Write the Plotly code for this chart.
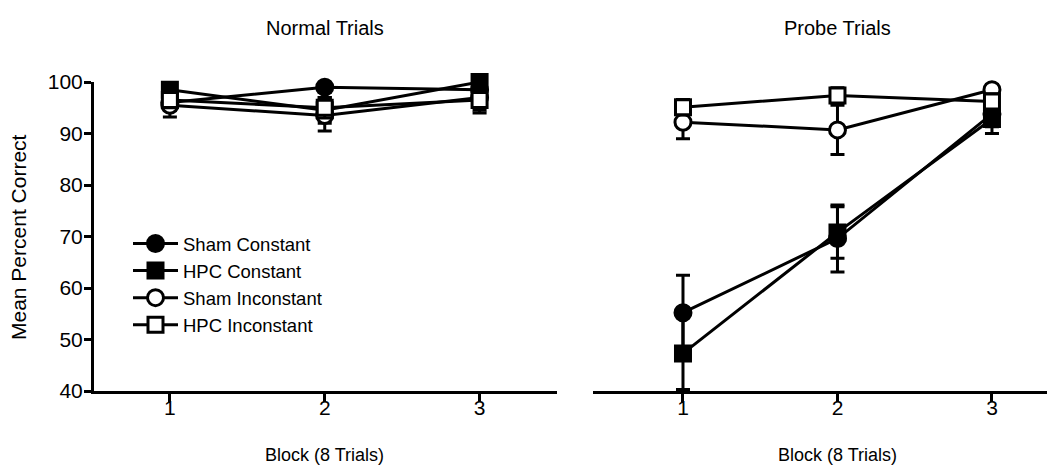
import plotly.graph_objects as go

blocks = [1, 2, 3]
series_names = ["Sham Constant", "HPC Constant", "Sham Inconstant", "HPC Inconstant"]

# Normal trials
normal_sham_const = [96.0, 99.0, 98.5]
normal_hpc_const = [98.5, 94.5, 100.0]
normal_sham_incon = [95.5, 93.5, 97.0]
normal_hpc_incon = [96.5, 95.0, 96.5]
normal_sham_const_err = [1.5, 1.0, 1.0]
normal_hpc_const_err = [1.0, 2.5, 1.0]
normal_sham_incon_err = [2.3, 3.0, 3.0]
normal_hpc_incon_err = [1.5, 2.0, 2.0]

# Probe trials
probe_sham_const = [55.2, 69.6, 93.8]
probe_hpc_const = [47.3, 70.8, 92.8]
probe_sham_incon = [92.2, 90.7, 98.5]
probe_hpc_incon = [95.1, 97.4, 96.2]
probe_sham_const_err = [7.3, 6.5, 2.5]
probe_hpc_const_err = [7.0, 5.0, 2.8]
probe_sham_incon_err = [3.2, 4.8, 1.0]
probe_hpc_incon_err = [1.5, 1.5, 1.5]

y_ticks = [40, 50, 60, 70, 80, 90, 100]

FONT = "Liberation Sans, Arial, Helvetica, sans-serif"

styles = [
    dict(symbol="circle", color="black", size=16),
    dict(symbol="square", color="black", size=15),
    dict(symbol="circle", color="white", size=16),
    dict(symbol="square", color="white", size=15),
]

normal = [normal_sham_const, normal_hpc_const, normal_sham_incon, normal_hpc_incon]
normal_err = [normal_sham_const_err, normal_hpc_const_err, normal_sham_incon_err, normal_hpc_incon_err]
probe = [probe_sham_const, probe_hpc_const, probe_sham_incon, probe_hpc_incon]
probe_err = [probe_sham_const_err, probe_hpc_const_err, probe_sham_incon_err, probe_hpc_incon_err]

fig = go.Figure()

for panel, (vals, errs) in enumerate([(normal, normal_err), (probe, probe_err)]):
    xa = "x" if panel == 0 else "x2"
    ya = "y" if panel == 0 else "y2"
    for i, name in enumerate(series_names):
        st = styles[i]
        fig.add_trace(go.Scatter(
            x=blocks, y=vals[i], name=name, xaxis=xa, yaxis=ya,
            mode="lines+markers",
            line=dict(color="black", width=3),
            marker=dict(symbol=st["symbol"], size=st["size"], color=st["color"],
                        line=dict(color="black", width=3)),
            error_y=dict(type="data", array=errs[i], visible=True,
                         color="black", thickness=3, width=7),
            cliponaxis=False,
            showlegend=(panel == 0),
        ))

# page has an 8px body margin: figure coords = screen coords - 8
OFF = 8
W, H = 1055 - OFF, 472 - OFF
TOP, BOT = 82 - OFF, 391 - OFF
ML, MR, MT, MB = 0, 0, TOP, H - BOT
ph = BOT - TOP


def px(x):
    return (x - OFF) / W


def py(y):
    return (391 - y) / ph


axis_common = dict(showgrid=False, zeroline=False, linecolor="black", linewidth=3,
                   ticks="outside", tickwidth=3, tickcolor="black",
                   tickfont=dict(family=FONT, size=21, color="black"))

fig.update_layout(
    width=W, height=H,
    margin=dict(l=ML, r=MR, t=MT, b=MB),
    plot_bgcolor="white", paper_bgcolor="white",
    font=dict(family=FONT, color="black"),
    xaxis=dict(domain=[px(94), px(557)], range=[0.51, 3.5], tickvals=blocks,
               showline=True, anchor="y", ticklen=8, ticklabelstandoff=-12, **axis_common),
    yaxis=dict(domain=[0, 1], range=[40, 100], tickvals=y_ticks,
               showline=True, anchor="x", ticklen=7, ticklabelstandoff=-3, **axis_common),
    xaxis2=dict(domain=[px(593), 1], range=[0.4175, 3.408], tickvals=blocks,
                showline=True, anchor="y2", ticklen=8, ticklabelstandoff=-12, **axis_common),
    yaxis2=dict(domain=[0, 1], range=[40, 100], showline=False, showticklabels=False,
                ticks="", showgrid=False, zeroline=False, anchor="x2"),
    legend=dict(x=px(128), y=py(225),
                xanchor="left", yanchor="top", itemwidth=45,
                font=dict(family=FONT, size=18.5, color="black"),
                bgcolor="rgba(0,0,0,0)", traceorder="normal"),
    showlegend=True,
)

ann_font = dict(family=FONT, size=20, color="black")
fig.add_annotation(text="Normal Trials", xref="x", yref="paper", x=2, y=1 + 54 / ph,
                   showarrow=False, font=ann_font, yanchor="middle")
fig.add_annotation(text="Probe Trials", xref="x2", yref="paper", x=2, y=1 + 54 / ph,
                   showarrow=False, font=ann_font, yanchor="middle")
fig.add_annotation(text="Block (8 Trials)", xref="x", yref="paper", x=2, y=py(455),
                   showarrow=False, font=dict(family=FONT, size=18, color="black"), yanchor="middle")
fig.add_annotation(text="Block (8 Trials)", xref="x2", yref="paper", x=2, y=py(455),
                   showarrow=False, font=dict(family=FONT, size=18, color="black"), yanchor="middle")
fig.add_annotation(text="Mean Percent Correct", xref="paper", yref="paper", x=px(19),
                   y=py(237), textangle=-90, showarrow=False,
                   font=dict(family=FONT, size=21, color="black"),
                   xanchor="center", yanchor="middle")

fig.write_html("out.html")
